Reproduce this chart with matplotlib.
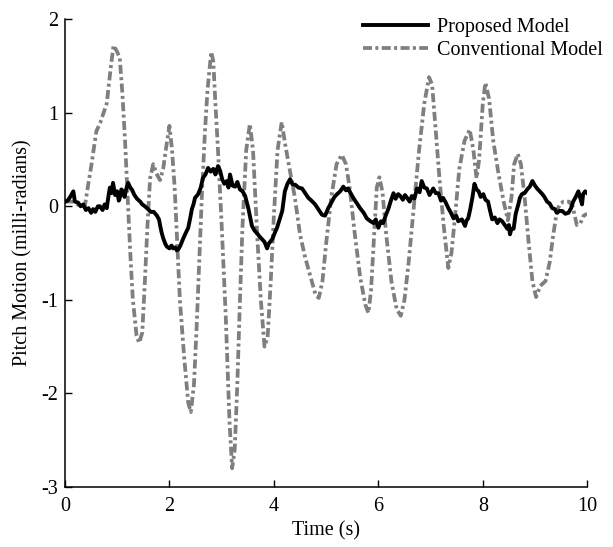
import matplotlib
matplotlib.use("Agg")
import matplotlib.pyplot as plt

# Proposed Model (black, noisy)
prop_t = [0.00, 0.05, 0.10, 0.16, 0.19, 0.25, 0.30, 0.35, 0.40, 0.45, 0.50, 0.54, 0.58, 0.63, 0.67, 0.72, 0.76, 0.80,
          0.83, 0.86, 0.89, 0.92, 0.96, 1.00, 1.03, 1.05, 1.08, 1.11, 1.14, 1.18, 1.21, 1.25, 1.28, 1.33, 1.38, 1.44,
          1.48, 1.53, 1.59, 1.64, 1.70, 1.76, 1.80, 1.82, 1.85, 1.88, 1.92, 1.95, 2.00, 2.04, 2.07, 2.11, 2.14, 2.17,
          2.21, 2.26, 2.30, 2.36, 2.40, 2.43, 2.46, 2.49, 2.55, 2.60, 2.64, 2.69, 2.74, 2.79, 2.84, 2.88, 2.93, 2.97,
          3.01, 3.05, 3.10, 3.13, 3.16, 3.21, 3.26, 3.30, 3.35, 3.40, 3.45, 3.51, 3.58, 3.63, 3.68, 3.72, 3.77, 3.82,
          3.87, 3.90, 3.97, 4.02, 4.06, 4.11, 4.16, 4.21, 4.26, 4.31, 4.36, 4.41, 4.47, 4.54, 4.60, 4.66, 4.72, 4.79,
          4.85, 4.92, 4.98, 5.04, 5.11, 5.16, 5.21, 5.27, 5.33, 5.38, 5.42, 5.47, 5.52, 5.58, 5.65, 5.72, 5.78, 5.85,
          5.91, 5.95, 6.00, 6.05, 6.09, 6.14, 6.19, 6.24, 6.29, 6.33, 6.38, 6.42, 6.47, 6.51, 6.55, 6.60, 6.64, 6.69,
          6.74, 6.79, 6.83, 6.88, 6.93, 6.98, 7.05, 7.10, 7.15, 7.20, 7.24, 7.29, 7.34, 7.39, 7.44, 7.49, 7.53, 7.60,
          7.66, 7.69, 7.72, 7.76, 7.80, 7.84, 7.88, 7.92, 7.96, 8.01, 8.05, 8.10, 8.14, 8.18, 8.23, 8.28, 8.32, 8.37,
          8.42, 8.47, 8.50, 8.52, 8.55, 8.59, 8.63, 8.68, 8.71, 8.75, 8.80, 8.85, 8.90, 8.95, 9.00, 9.04, 9.09, 9.14,
          9.18, 9.23, 9.28, 9.33, 9.38, 9.42, 9.47, 9.52, 9.58, 9.64, 9.69, 9.73, 9.78, 9.83, 9.87, 9.90, 9.92, 9.96,
          10.00]
prop_y = [0.05, 0.06, 0.10, 0.16, 0.05, 0.04, 0.00, 0.02, -0.04, -0.02, -0.07, -0.03, -0.06, 0.00, 0.00, -0.04, 0.02, -0.02,
          0.10, 0.20, 0.14, 0.25, 0.12, 0.16, 0.06, 0.09, 0.18, 0.16, 0.10, 0.20, 0.25, 0.20, 0.18, 0.12, 0.08, 0.05,
          0.02, 0.00, -0.03, -0.06, -0.06, -0.10, -0.14, -0.20, -0.28, -0.34, -0.40, -0.43, -0.45, -0.42, -0.45, -0.44, -0.47, -0.46,
          -0.42, -0.35, -0.30, -0.23, -0.12, -0.03, 0.02, 0.09, 0.13, 0.20, 0.30, 0.34, 0.41, 0.37, 0.40, 0.34, 0.43, 0.38,
          0.29, 0.24, 0.27, 0.20, 0.34, 0.22, 0.21, 0.26, 0.18, 0.16, 0.11, -0.02, -0.21, -0.26, -0.29, -0.32, -0.35, -0.38,
          -0.45, -0.40, -0.35, -0.28, -0.23, -0.14, -0.05, 0.16, 0.24, 0.29, 0.23, 0.23, 0.20, 0.19, 0.14, 0.09, 0.06, 0.02,
          -0.03, -0.09, -0.10, -0.02, 0.05, 0.10, 0.13, 0.16, 0.21, 0.17, 0.19, 0.14, 0.09, 0.04, -0.02, -0.07, -0.13, -0.16,
          -0.18, -0.14, -0.23, -0.16, -0.18, -0.10, -0.03, 0.06, 0.14, 0.08, 0.13, 0.11, 0.07, 0.12, 0.09, 0.05, 0.11, 0.08,
          0.19, 0.15, 0.27, 0.20, 0.19, 0.12, 0.19, 0.14, 0.14, 0.06, 0.09, 0.04, -0.02, -0.07, -0.13, -0.10, -0.16, -0.14,
          -0.21, -0.15, -0.13, -0.03, 0.09, 0.24, 0.18, 0.16, 0.10, 0.13, 0.07, 0.05, -0.05, -0.14, -0.12, -0.18, -0.14, -0.16,
          -0.20, -0.24, -0.20, -0.30, -0.24, -0.24, -0.08, 0.02, 0.09, 0.13, 0.14, 0.18, 0.21, 0.27, 0.22, 0.19, 0.16, 0.13,
          0.10, 0.05, 0.03, -0.02, -0.03, -0.07, -0.05, -0.05, -0.08, -0.07, -0.02, 0.05, 0.10, 0.16, 0.08, 0.02, 0.13, 0.16,
          0.14]

# Conventional Model (grey, dash-dot)
conv_t = [0.00, 0.15, 0.30, 0.38, 0.45, 0.50, 0.60, 0.68, 0.80, 0.88, 0.93, 1.00, 1.05, 1.10, 1.15, 1.20, 1.25, 1.30,
          1.37, 1.42, 1.48, 1.53, 1.58, 1.63, 1.69, 1.75, 1.82, 1.88, 1.93, 2.00, 2.05, 2.10, 2.15, 2.20, 2.28, 2.36,
          2.41, 2.47, 2.52, 2.57, 2.62, 2.68, 2.73, 2.80, 2.84, 2.88, 2.93, 3.00, 3.08, 3.15, 3.20, 3.25, 3.30, 3.35,
          3.40, 3.47, 3.54, 3.60, 3.68, 3.75, 3.82, 3.88, 3.94, 4.00, 4.07, 4.15, 4.22, 4.30, 4.40, 4.50, 4.60, 4.70,
          4.80, 4.86, 4.93, 5.00, 5.10, 5.20, 5.30, 5.38, 5.45, 5.55, 5.65, 5.75, 5.81, 5.86, 5.92, 5.97, 6.02, 6.08,
          6.15, 6.25, 6.35, 6.43, 6.50, 6.58, 6.68, 6.78, 6.88, 6.97, 7.03, 7.10, 7.17, 7.25, 7.34, 7.40, 7.47, 7.55,
          7.65, 7.75, 7.82, 7.88, 7.93, 8.00, 8.05, 8.12, 8.20, 8.30, 8.40, 8.48, 8.55, 8.60, 8.67, 8.73, 8.80, 8.88,
          8.95, 9.02, 9.10, 9.20, 9.28, 9.35, 9.42, 9.48, 9.55, 9.65, 9.72, 9.80, 9.87, 9.93, 10.00]
conv_y = [0.05, 0.05, 0.00, 0.00, 0.25, 0.42, 0.80, 0.90, 1.10, 1.50, 1.72, 1.65, 1.58, 1.20, 0.70, 0.10, -0.50, -1.00,
          -1.38, -1.46, -1.35, -0.80, -0.20, 0.30, 0.45, 0.35, 0.28, 0.40, 0.60, 0.86, 0.60, 0.20, -0.40, -1.00, -1.60, -2.10,
          -2.20, -1.90, -1.30, -0.60, 0.10, 0.80, 1.25, 1.65, 1.55, 1.10, 0.60, -0.20, -1.20, -2.30, -2.80, -2.60, -1.90, -1.00,
          -0.20, 0.60, 0.88, 0.60, -0.30, -1.00, -1.50, -1.40, -0.80, -0.10, 0.60, 0.90, 0.65, 0.40, 0.10, -0.30, -0.55, -0.75,
          -0.95, -0.98, -0.80, -0.40, 0.10, 0.45, 0.55, 0.45, 0.20, -0.30, -0.75, -1.05, -1.14, -0.90, -0.30, 0.20, 0.31, 0.15,
          -0.30, -0.80, -1.10, -1.17, -1.00, -0.60, 0.00, 0.60, 1.10, 1.38, 1.30, 0.80, 0.30, -0.20, -0.66, -0.50, -0.10, 0.40,
          0.70, 0.82, 0.60, 0.30, 0.50, 1.10, 1.32, 1.15, 0.70, 0.35, 0.05, -0.15, 0.10, 0.45, 0.56, 0.45, 0.10, -0.40,
          -0.80, -0.97, -0.85, -0.80, -0.60, -0.30, -0.05, 0.03, 0.05, 0.05, 0.00, -0.20, -0.18, -0.10, -0.08]

x_ticks = [0, 2, 4, 6, 8, 10]
y_ticks = [-3, -2, -1, 0, 1, 2]
series_labels = ["Proposed Model", "Conventional Model"]

plt.rcParams['font.family'] = ['Liberation Serif', 'DejaVu Serif']
fs = 14.5

fig = plt.figure(figsize=(6.13, 5.47), dpi=100)
ax = fig.add_axes([0.106, 0.1097, 0.852, 0.8553])

ax.plot(prop_t, prop_y, color='black', lw=2.8, label=series_labels[0], zorder=3)
ax.plot(conv_t, conv_y, color='#7f7f7f', lw=2.7, linestyle=(0, (2.4, 0.9, 0.8, 0.9)),
        label=series_labels[1], zorder=2)

ax.set_xlim(0, 10)
ax.set_ylim(-3, 2)
ax.set_xticks(x_ticks)
ax.set_yticks(y_ticks)
ax.set_xticklabels([str(v) for v in x_ticks], fontsize=fs)
ax.set_yticklabels([str(v) for v in y_ticks], fontsize=fs)
ax.tick_params(direction='in', length=5, width=1, pad=7)
ax.tick_params(axis='y', pad=5)
for s in ['top', 'right']:
    ax.spines[s].set_visible(False)
for s in ['left', 'bottom']:
    ax.spines[s].set_linewidth(1.1)

ax.set_xlabel('Time (s)', fontsize=fs, labelpad=4)
ax.set_ylabel('Pitch Motion (milli-radians)', fontsize=fs, labelpad=6)

leg = ax.legend(loc='upper right', bbox_to_anchor=(1.003, 0.99), bbox_transform=fig.transFigure,
                frameon=False, fontsize=fs, handlelength=3.2, handletextpad=0.45,
                labelspacing=0.2, borderaxespad=0.2)

fig.savefig('out.png', dpi=100)
